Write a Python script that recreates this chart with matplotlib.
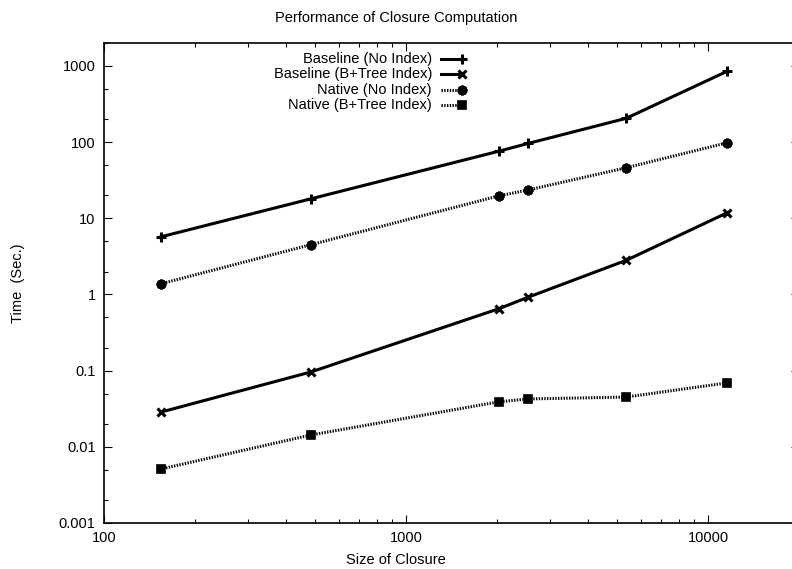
import matplotlib
matplotlib.use("Agg")
import matplotlib.pyplot as plt
from matplotlib.lines import Line2D
from matplotlib.ticker import LogLocator, FixedLocator, FuncFormatter, NullFormatter

plt.rcParams['font.family'] = ['Liberation Sans', 'DejaVu Sans']
plt.rcParams['font.size'] = 10.5

# closure sizes (x) and timings in seconds (y)
sizes = [154, 484, 2030, 2535, 5350, 11560]
baseline_noidx = [5.7, 18, 76, 96, 205, 850]
baseline_btree = [0.0285, 0.096, 0.65, 0.92, 2.8, 11.8]
native_noidx = [1.38, 4.5, 19.7, 23.5, 46, 98]
native_btree = [0.0051, 0.0143, 0.039, 0.0425, 0.045, 0.069]

labels = ["Baseline (No Index)", "Baseline (B+Tree Index)",
          "Native (No Index)", "Native (B+Tree Index)"]
series = [baseline_noidx, baseline_btree, native_noidx, native_btree]

dotted = (0, (0.45, 0.45))
styles = [
    dict(ls='-', marker='+', ms=6.5, mew=2.2),
    dict(ls='-', marker='x', ms=6, mew=2.2),
    dict(ls=dotted, marker=(8, 2, 0), ms=7, mew=2.2),
    dict(ls=dotted, marker='s', ms=6, mew=1.2),
]

W, H = 792, 569
fig = plt.figure(figsize=(W / 100, H / 100), dpi=100)
# right edge of the plot frame lies just past the picture edge
ax = fig.add_axes([104 / W, (H - 523) / H, (799 - 104) / W, (523 - 43) / H])

for ys, st in zip(series, styles):
    ax.plot(sizes, ys, color='black', lw=2.2, mfc='black', mec='black',
            clip_on=False, **st)

ax.set_xscale('log')
ax.set_yscale('log')
ax.set_xlim(100, 20000)
ax.set_ylim(0.001, 2000)

ax.xaxis.set_major_locator(FixedLocator([100, 1000, 10000]))
ax.xaxis.set_minor_locator(LogLocator(base=10, subs=range(2, 10)))
ax.yaxis.set_major_locator(FixedLocator([0.001, 0.01, 0.1, 1, 10, 100, 1000]))
ax.yaxis.set_minor_locator(LogLocator(base=10, subs=[2, 5]))
fmt = FuncFormatter(lambda v, p: '%g' % v)
ax.xaxis.set_major_formatter(fmt)
ax.yaxis.set_major_formatter(fmt)
ax.xaxis.set_minor_formatter(NullFormatter())
ax.yaxis.set_minor_formatter(NullFormatter())
ax.tick_params(which='both', direction='in', top=True, right=True, width=0.8)
ax.tick_params(which='major', length=6, pad=6)
ax.tick_params(which='minor', length=3)
for sp in ax.spines.values():
    sp.set_linewidth(1.2)

fig.text(0.5, 1 - 18 / H, "Performance of Closure Computation", ha='center', va='center')
fig.text(0.5, 1 - 560 / H, "Size of Closure", ha='center', va='center')
fig.text(18 / W, 1 - 283 / H, "Time  (Sec.)", rotation=90, ha='center', va='center')

# key, gnuplot style: right-aligned text, sample line to its right
for i, (lab, st) in enumerate(zip(labels, styles)):
    y = 1 - (59 + 15.3 * i) / H
    fig.text(432 / W, y, lab, ha='right', va='center')
    fig.add_artist(Line2D([441 / W, 462 / W], [y, y], transform=fig.transFigure,
                          color='black', lw=2.2, ls=st['ls']))
    fig.add_artist(Line2D([462 / W], [y], transform=fig.transFigure,
                          color='black', marker=st['marker'], ms=st['ms'],
                          mew=st['mew'], mfc='black', mec='black', ls='none'))

fig.savefig('out.png', dpi=100)
